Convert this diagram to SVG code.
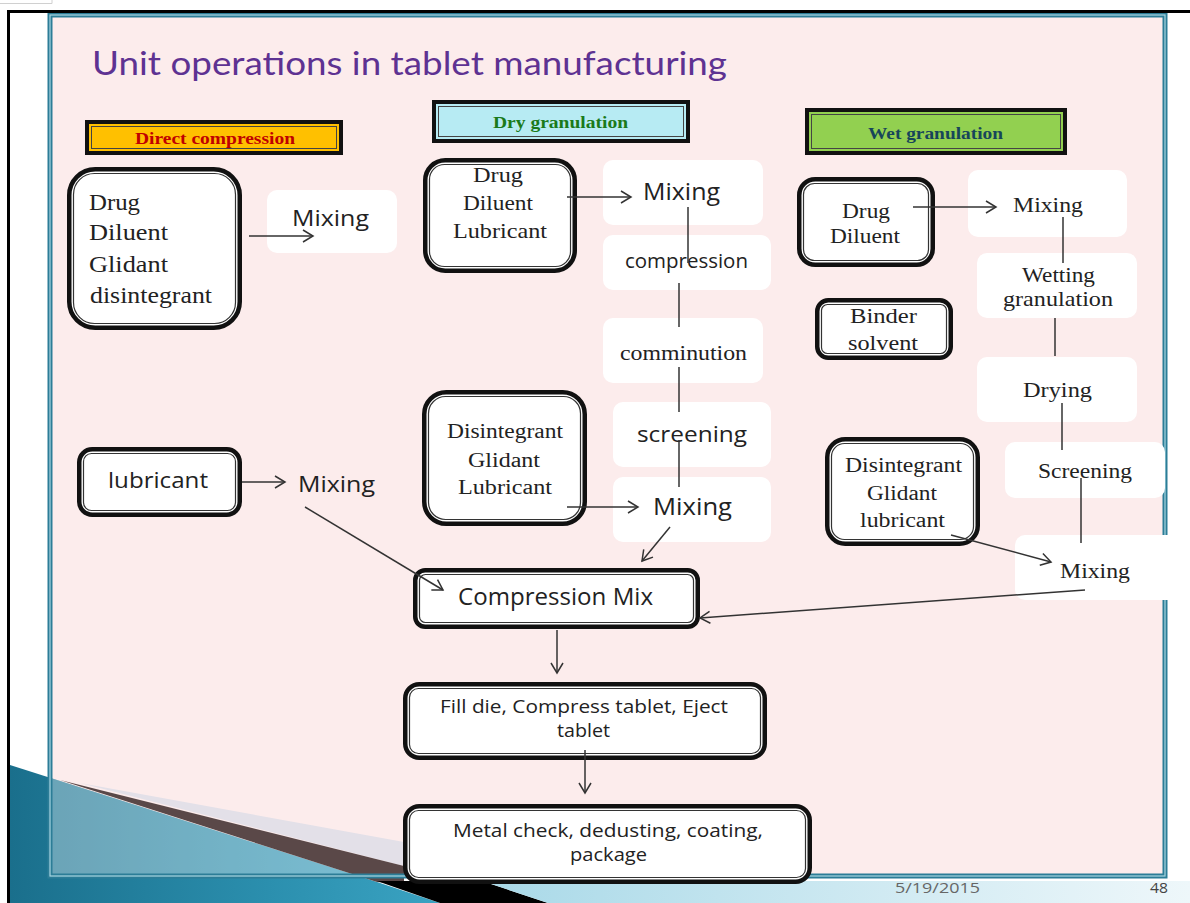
<svg xmlns="http://www.w3.org/2000/svg" width="1190" height="903" viewBox="0 0 1190 903">
<defs>
<style>
.dblo{fill:#fff;stroke:#111;stroke-width:4.5}
.dbli{fill:none;stroke:#333;stroke-width:1.2}
.step{fill:#fff}
.hdo{stroke:#111;stroke-width:4}
.hdi{fill:none;stroke:#444;stroke-width:1}
.serif{font-family:"Liberation Serif","Times New Roman",serif;fill:#222}
.sans{font-family:"Open Sans","DejaVu Sans",sans-serif;fill:#222}
.hd{font-family:"Liberation Serif","Times New Roman",serif;font-weight:bold;font-size:17px}
.ln{stroke:#333;stroke-width:1.5;fill:none}
.ar{stroke:#333;stroke-width:1.5;fill:none;marker-end:url(#ah)}
</style>
<marker id="ah" viewBox="-12 -8 14 16" refX="0" refY="0" markerWidth="14" markerHeight="16" markerUnits="userSpaceOnUse" orient="auto">
<path d="M-10,-6 L0,0 L-10,6" fill="none" stroke="#333" stroke-width="1.5"/>
</marker>
<linearGradient id="tealg" x1="0" y1="0" x2="1" y2="0">
<stop offset="0" stop-color="#1a6f8c"/>
<stop offset="0.6" stop-color="#2b8fae"/>
<stop offset="1" stop-color="#3aa3c2"/>
</linearGradient>
<linearGradient id="lbg" x1="0" y1="0" x2="1" y2="0">
<stop offset="0" stop-color="#a9d9e8"/>
<stop offset="1" stop-color="#eef7fa"/>
</linearGradient>
<clipPath id="slideclip"><rect x="50" y="15" width="1115" height="861"/></clipPath>
</defs>

<rect x="0" y="0" width="1190" height="903" fill="#fff"/>
<path d="M0,3.5 H52 V0" fill="none" stroke="#d0d0d0" stroke-width="1"/>

<g id="slide-background">
<rect x="50" y="15" width="1115" height="861" fill="#fcecec"/>
</g>

<g id="decoration">
<polygon points="10,765 377,882 440,903 10,903" fill="url(#tealg)"/>
<polygon points="10,765 377,882 440,903 10,903" fill="#fff" opacity="0.35" clip-path="url(#slideclip)"/>
<polygon points="80,783 404,842 404,866" fill="#e3e0e8"/>
<polygon points="60,780 404,866 404,884 377,882" fill="#5a4848"/>
<polygon points="377,881 482,881 548,903 440,903" fill="#000"/>
<polygon points="482,881 1190,881 1190,903 548,903" fill="url(#lbg)"/>
</g>

<g id="slide-border">
<rect x="50" y="15" width="1115" height="861" fill="none" stroke="#2c7d97" stroke-width="5"/>
<rect x="50" y="15" width="1115" height="861" fill="none" stroke="#a9d5e1" stroke-width="1.2"/>
</g>

<g id="frame">
<line x1="7" y1="11.5" x2="1190" y2="11.5" stroke="#000" stroke-width="3"/>
<line x1="8.5" y1="10" x2="8.5" y2="903" stroke="#000" stroke-width="3"/>
</g>

<g id="title">
<text x="92" y="75" font-family="Lato,'Open Sans',sans-serif" font-size="33" fill="#5e3292" textLength="635" lengthAdjust="spacingAndGlyphs">Unit operations in tablet manufacturing</text>
</g>

<g id="hdr-direct">
<rect class="hdo" x="87" y="122" width="254" height="31" fill="#ffc000"/>
<rect class="hdi" x="91.5" y="126.5" width="245" height="22"/>
<text class="hd" x="135" y="144" fill="#c00000" textLength="160" lengthAdjust="spacingAndGlyphs">Direct compression</text>
</g>
<g id="hdr-dry">
<rect class="hdo" x="434" y="102" width="254" height="39" fill="#b7ebf3"/>
<rect class="hdi" x="438.5" y="106.5" width="245" height="30"/>
<text class="hd" x="493" y="128" fill="#1a7a1a" textLength="135" lengthAdjust="spacingAndGlyphs">Dry granulation</text>
</g>
<g id="hdr-wet">
<rect class="hdo" x="807" y="110" width="258" height="43" fill="#92d050"/>
<rect class="hdi" x="811.5" y="114.5" width="249" height="34"/>
<text class="hd" x="868" y="139" fill="#17455a" textLength="135" lengthAdjust="spacingAndGlyphs">Wet granulation</text>
</g>

<g id="dc-ingredients">
<rect class="dblo" x="69.25" y="169.25" width="170.5" height="158.5" rx="26"/>
<rect class="dbli" x="73.5" y="173.5" width="162" height="150" rx="21"/>
<text class="serif" font-size="23" x="89" y="210" textLength="51" lengthAdjust="spacingAndGlyphs">Drug</text>
<text class="serif" font-size="23" x="89" y="240" textLength="79" lengthAdjust="spacingAndGlyphs">Diluent</text>
<text class="serif" font-size="23" x="89" y="272" textLength="79" lengthAdjust="spacingAndGlyphs">Glidant</text>
<text class="serif" font-size="23" x="90" y="303" textLength="122" lengthAdjust="spacingAndGlyphs">disintegrant</text>
</g>
<g id="dc-mixing1">
<rect class="step" x="267" y="190" width="130" height="63" rx="10"/>
<text class="sans" font-size="22" x="292" y="226" textLength="77" lengthAdjust="spacingAndGlyphs">Mixing</text>
</g>
<g id="dc-lubricant">
<rect class="dblo" x="79.25" y="449.25" width="160.5" height="65.5" rx="13"/>
<rect class="dbli" x="83.5" y="453.5" width="152" height="57" rx="8"/>
<text class="sans" font-size="22" x="108" y="488" textLength="100" lengthAdjust="spacingAndGlyphs">lubricant</text>
</g>
<g id="dc-mixing2">
<text class="sans" font-size="22" x="298" y="492" textLength="77" lengthAdjust="spacingAndGlyphs">Mixing</text>
</g>

<g id="dry-ingredients">
<rect class="dblo" x="425.25" y="160.25" width="149.5" height="110.5" rx="20"/>
<rect class="dbli" x="429.5" y="164.5" width="141" height="102" rx="15"/>
<text class="serif" font-size="21" x="473" y="182" textLength="50" lengthAdjust="spacingAndGlyphs">Drug</text>
<text class="serif" font-size="21" x="463" y="210" textLength="70" lengthAdjust="spacingAndGlyphs">Diluent</text>
<text class="serif" font-size="21" x="453" y="238" textLength="94" lengthAdjust="spacingAndGlyphs">Lubricant</text>
</g>
<g id="dry-mixing1">
<rect class="step" x="603" y="160" width="160" height="65" rx="10"/>
<text class="sans" font-size="23" x="643" y="200" textLength="77" lengthAdjust="spacingAndGlyphs">Mixing</text>
</g>
<g id="dry-compression">
<rect class="step" x="603" y="235" width="168" height="55" rx="10"/>
<text class="sans" font-size="20" x="625" y="268" textLength="123" lengthAdjust="spacingAndGlyphs">compression</text>
</g>
<g id="dry-comminution">
<rect class="step" x="603" y="318" width="160" height="65" rx="10"/>
<text class="serif" font-size="21" x="620" y="360" textLength="127" lengthAdjust="spacingAndGlyphs">comminution</text>
</g>
<g id="dry-screening">
<rect class="step" x="613" y="402" width="158" height="65" rx="10"/>
<text class="sans" font-size="22" x="637" y="442" textLength="110" lengthAdjust="spacingAndGlyphs">screening</text>
</g>
<g id="dry-mixing2">
<rect class="step" x="613" y="477" width="158" height="65" rx="10"/>
<text class="sans" font-size="23" x="653" y="515" textLength="79" lengthAdjust="spacingAndGlyphs">Mixing</text>
</g>
<g id="dry-additives">
<rect class="dblo" x="424.25" y="392.25" width="160.5" height="131.5" rx="22"/>
<rect class="dbli" x="428.5" y="396.5" width="152" height="123" rx="17"/>
<text class="serif" font-size="20" x="447" y="438" textLength="116" lengthAdjust="spacingAndGlyphs">Disintegrant</text>
<text class="serif" font-size="20" x="468" y="467" textLength="72" lengthAdjust="spacingAndGlyphs">Glidant</text>
<text class="serif" font-size="20" x="458" y="494" textLength="94" lengthAdjust="spacingAndGlyphs">Lubricant</text>
</g>

<g id="wet-ingredients">
<rect class="dblo" x="799.25" y="179.25" width="133.5" height="85.5" rx="16"/>
<rect class="dbli" x="803.5" y="183.5" width="125" height="77" rx="11"/>
<text class="serif" font-size="21" x="842" y="218" textLength="48" lengthAdjust="spacingAndGlyphs">Drug</text>
<text class="serif" font-size="21" x="830" y="243" textLength="70" lengthAdjust="spacingAndGlyphs">Diluent</text>
</g>
<g id="wet-mixing1">
<rect class="step" x="968" y="170" width="159" height="67" rx="10"/>
<text class="serif" font-size="21" x="1013" y="212" textLength="70" lengthAdjust="spacingAndGlyphs">Mixing</text>
</g>
<g id="wet-wetting">
<rect class="step" x="977" y="253" width="160" height="65" rx="10"/>
<text class="serif" font-size="21" x="1022" y="282" textLength="73" lengthAdjust="spacingAndGlyphs">Wetting</text>
<text class="serif" font-size="21" x="1003" y="306" textLength="110" lengthAdjust="spacingAndGlyphs">granulation</text>
</g>
<g id="wet-binder">
<rect class="dblo" x="817.25" y="300.25" width="133.5" height="57.5" rx="11"/>
<rect class="dbli" x="821.5" y="304.5" width="125" height="49" rx="6"/>
<text class="serif" font-size="20" x="850" y="323" textLength="67" lengthAdjust="spacingAndGlyphs">Binder</text>
<text class="serif" font-size="20" x="848" y="350" textLength="70" lengthAdjust="spacingAndGlyphs">solvent</text>
</g>
<g id="wet-drying">
<rect class="step" x="977" y="357" width="160" height="65" rx="10"/>
<text class="serif" font-size="21" x="1023" y="397" textLength="69" lengthAdjust="spacingAndGlyphs">Drying</text>
</g>
<g id="wet-screening">
<rect class="step" x="1005" y="442" width="160" height="56" rx="10"/>
<text class="serif" font-size="21" x="1038" y="478" textLength="94" lengthAdjust="spacingAndGlyphs">Screening</text>
</g>
<g id="wet-mixing2">
<rect class="step" x="1015" y="535" width="165" height="65" rx="10"/>
<text class="serif" font-size="21" x="1060" y="578" textLength="70" lengthAdjust="spacingAndGlyphs">Mixing</text>
</g>
<g id="wet-additives">
<rect class="dblo" x="827.25" y="439.25" width="150.5" height="104.5" rx="18"/>
<rect class="dbli" x="831.5" y="443.5" width="142" height="96" rx="13"/>
<text class="serif" font-size="20" x="845" y="472" textLength="117" lengthAdjust="spacingAndGlyphs">Disintegrant</text>
<text class="serif" font-size="20" x="867" y="500" textLength="70" lengthAdjust="spacingAndGlyphs">Glidant</text>
<text class="serif" font-size="20" x="860" y="527" textLength="85" lengthAdjust="spacingAndGlyphs">lubricant</text>
</g>

<g id="compression-mix">
<rect class="dblo" x="415.25" y="570.25" width="282.5" height="56.5" rx="10"/>
<rect class="dbli" x="419.5" y="574.5" width="274" height="48" rx="6"/>
<text class="sans" font-size="23" x="458" y="605" textLength="195" lengthAdjust="spacingAndGlyphs">Compression Mix</text>
</g>
<g id="fill-die">
<rect class="dblo" x="405.25" y="684.25" width="359.5" height="73.5" rx="14"/>
<rect class="dbli" x="409.5" y="688.5" width="351" height="65" rx="9"/>
<text class="sans" font-size="17.5" x="440" y="713" textLength="288" lengthAdjust="spacingAndGlyphs">Fill die, Compress tablet, Eject</text>
<text class="sans" font-size="17.5" x="557" y="737" textLength="53" lengthAdjust="spacingAndGlyphs">tablet</text>
</g>
<g id="metal-check">
<rect class="dblo" x="405.25" y="806.25" width="404.5" height="75.5" rx="14"/>
<rect class="dbli" x="409.5" y="810.5" width="396" height="67" rx="9"/>
<text class="sans" font-size="17.5" x="453" y="837" textLength="310" lengthAdjust="spacingAndGlyphs">Metal check, dedusting, coating,</text>
<text class="sans" font-size="17.5" x="570" y="861" textLength="77" lengthAdjust="spacingAndGlyphs">package</text>
</g>

<g id="connectors">
<line class="ar" x1="249" y1="236" x2="313" y2="236"/>
<line class="ar" x1="567" y1="197" x2="631" y2="197"/>
<line class="ln" x1="688" y1="207" x2="688" y2="263"/>
<line class="ln" x1="679" y1="283" x2="679" y2="327"/>
<line class="ln" x1="679" y1="367" x2="679" y2="412"/>
<line class="ln" x1="679" y1="440" x2="679" y2="487"/>
<line class="ar" x1="567" y1="507" x2="638" y2="507"/>
<line class="ar" x1="670" y1="527" x2="642" y2="561"/>
<line class="ar" x1="242" y1="482" x2="285" y2="482"/>
<line class="ar" x1="305" y1="507" x2="443" y2="590"/>
<line class="ar" x1="913" y1="207" x2="996" y2="207"/>
<line class="ln" x1="1063" y1="217" x2="1063" y2="263"/>
<line class="ln" x1="1055" y1="318" x2="1055" y2="356"/>
<line class="ln" x1="1062" y1="403" x2="1062" y2="450"/>
<line class="ln" x1="1081" y1="478" x2="1081" y2="543"/>
<line class="ar" x1="951" y1="535" x2="1051" y2="562"/>
<line class="ar" x1="1085" y1="590" x2="700" y2="618"/>
<line class="ar" x1="557" y1="630" x2="557" y2="673"/>
<line class="ar" x1="585" y1="750" x2="585" y2="793"/>
</g>

<g id="footer">
<text font-family="'Open Sans','DejaVu Sans',sans-serif" font-size="15" fill="#666" x="895" y="893" textLength="85" lengthAdjust="spacingAndGlyphs">5/19/2015</text>
<text font-family="'Open Sans','DejaVu Sans',sans-serif" font-size="15" fill="#444" x="1150" y="893" textLength="18" lengthAdjust="spacingAndGlyphs">48</text>
</g>
</svg>
